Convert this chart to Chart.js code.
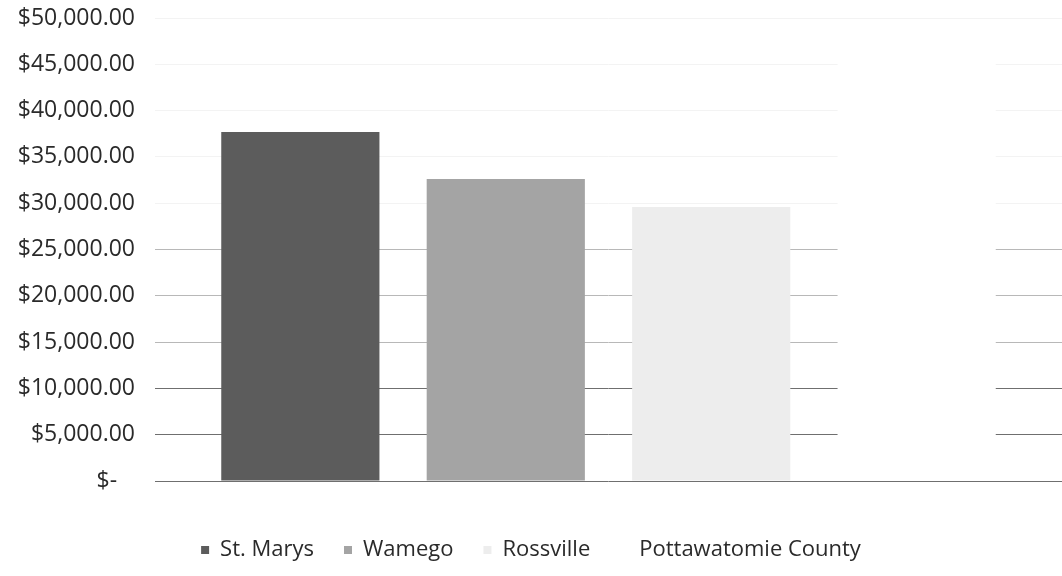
<!DOCTYPE html>
<html>
<head>
<meta charset="utf-8">
<script src="https://cdn.jsdelivr.net/npm/chart.js@4/dist/chart.umd.min.js"></script>
<style>
  html, body { margin: 0; padding: 0; background: #fff; }
  #wrap { width: 1062px; height: 576px; }
</style>
</head>
<body>
<div id="wrap"><canvas id="fundingChart"></canvas></div>
<script>
var categories = [''];
var seriesNames = ['St. Marys', 'Wamego', 'Rossville', 'Pottawatomie County'];
var stMarys = [37700];
var wamego = [32600];
var rossville = [29600];
var pottawatomie = [47000];
var tickValues = [0, 5000, 10000, 15000, 20000, 25000, 30000, 35000, 40000, 45000, 50000];

var barColors = ['#5c5c5c', '#a4a4a4', '#ededed', '#ffffff'];
var seriesData = [stMarys, wamego, rossville, pottawatomie];

function money(v) {
    if (v === 0) return '$-\u00a0\u00a0\u00a0';
    return '$' + v.toLocaleString('en-US', { minimumFractionDigits: 2, maximumFractionDigits: 2 });
}

// scanned gridlines: upper ones almost gone, middle ones faint, lower ones solid
function gridColor(c) {
    var v = c.tick ? c.tick.value : 0;
    if (v >= 30000) return '#f3f3f3';
    if (v >= 15000) return '#b8b8b8';
    return '#6f6f6f';
}

document.addEventListener('DOMContentLoaded', function () {
    var ctx = document.getElementById('fundingChart').getContext('2d');
    var datasets = seriesNames.map(function (name, i) {
        return {
            label: name,
            data: seriesData[i],
            backgroundColor: barColors[i],
            borderWidth: 0
        };
    });

    new Chart(ctx, {
        type: 'bar',
        data: { labels: categories, datasets: datasets },
        options: {
            responsive: true,
            maintainAspectRatio: false,
            animation: false,
            categoryPercentage: 0.906,
            barPercentage: 0.77,
            layout: { autoPadding: false, padding: { top: 18, right: 0, left: 0, bottom: 5 } },
            plugins: {
                tooltip: { enabled: false },
                legend: {
                    position: 'bottom',
                    labels: {
                        font: { family: 'Open Sans', size: 22 },
                        color: '#2a2a2a',
                        boxWidth: 8,
                        boxHeight: 8,
                        padding: 30
                    }
                }
            },
            scales: {
                x: {
                    grid: { display: false },
                    border: { display: false },
                    ticks: { display: false },
                    afterFit: function (scale) { scale.height = 28; }
                },
                y: {
                    min: 0,
                    max: 50000,
                    afterBuildTicks: function (scale) {
                        scale.ticks = tickValues.map(function (v) { return { value: v }; });
                    },
                    afterFit: function (scale) {
                        scale.width = 155;
                        scale.paddingTop = 0;
                        scale.paddingBottom = 0;
                    },
                    grid: { color: gridColor, lineWidth: 1, drawTicks: false },
                    border: { display: false },
                    ticks: {
                        padding: 20,
                        color: '#2a2a2a',
                        font: { family: 'Open Sans', size: 23 },
                        callback: function (v) { return money(v); }
                    }
                }
            }
        }
    });
});
</script>
</body>
</html>
